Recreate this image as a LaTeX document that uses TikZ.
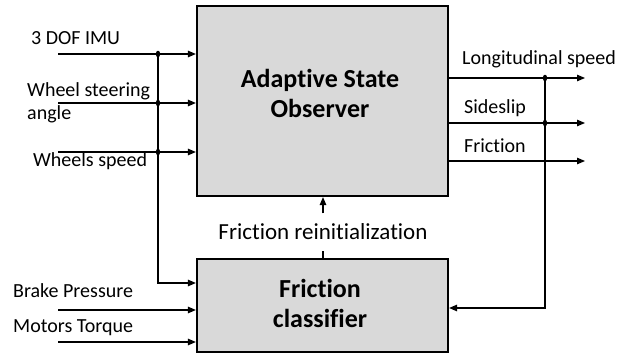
\documentclass[tikz,border=0pt]{standalone}
\usepackage{fontspec}
\setmainfont{Carlito}[Ligatures=NoCommon]
\usetikzlibrary{arrows.meta}
\definecolor{boxgray}{HTML}{D9D9D9}
\tikzset{
  block/.style={draw, line width=2.2pt, fill=boxgray, minimum width=251pt,
    minimum height=190pt, inner sep=0pt},
  title/.style={inner sep=0pt, align=center, anchor=base,
    font=\fontsize{26}{30}\selectfont\bfseries},
  lbl/.style={inner sep=0pt, font=\fontsize{20}{23}\selectfont},
  sig/.style={line width=1.2pt, -{Triangle[length=8pt,width=6.5pt]}},
  wire/.style={line width=1.2pt}
}
\begin{document}
\begin{tikzpicture}[x=1pt,y=-1pt]
\useasboundingbox (0,0) rectangle (630,358);
% blocks
\node[block] (obs) at (322.5,101) {};
\node[block, minimum height=93pt] (cls) at (322.5,305.5) {};
\node[title] (obstitle) at (320,118) {Adaptive State\\Observer};
\node[title] (clstitle) at (320,328) {Friction\\classifier};
% input labels
\node[lbl, anchor=base west] (imu) at (31,45) {3 DOF IMU};
\node[lbl, anchor=base west, align=left] (steer) at (27,120) {Wheel steering\\angle};
\node[lbl, anchor=base west] (wspd) at (33,167) {Wheels speed};
\node[lbl, anchor=base west] (brake) at (13,298) {Brake Pressure};
\node[lbl, anchor=base west] (torque) at (13,333) {Motors Torque};
% output labels
\node[lbl, anchor=base west] (lspd) at (462,65) {Longitudinal speed};
\node[lbl, anchor=base west] (slip) at (464,114) {Sideslip};
\node[lbl, anchor=base west] (fric) at (464,153) {Friction};
\node[lbl, anchor=base, fill=white, inner ysep=10.5pt, font=\fontsize{23}{27}\selectfont]
  (reinit) at (323,240) {Friction reinitialization};
% line ends and junctions
\coordinate (in1) at (58,54);
\coordinate (in2) at (58,103);
\coordinate (in3) at (58,152);
\coordinate (in4) at (58,310);
\coordinate (in5) at (58,342);
\coordinate (j1) at (158,54);
\coordinate (j2) at (158,103);
\coordinate (j3) at (158,152);
\coordinate (j4) at (158,283);
\coordinate (out1) at (585,78);
\coordinate (out2) at (585,123);
\coordinate (out3) at (585,161);
\coordinate (k1) at (545,78);
\coordinate (k2) at (545,123);
\coordinate (k3) at (545,308);
% inputs
\draw[sig] (in1) -- (in1 -| obs.west);
\draw[sig] (in2) -- (in2 -| obs.west);
\draw[sig] (in3) -- (in3 -| obs.west);
\draw[sig] (in4) -- (in4 -| cls.west);
\draw[sig] (in5) -- (in5 -| cls.west);
\draw[sig] (j1) -- (j4) -- (j4 -| cls.west);
% outputs
\draw[sig] (out1 -| obs.east) -- (out1);
\draw[sig] (out2 -| obs.east) -- (out2);
\draw[sig] (out3 -| obs.east) -- (out3);
\draw[sig] (k1) -- (k3) -- (k3 -| cls.east);
% reinitialization
\draw[wire] (reinit.south |- cls.north) -- (reinit.south);
\draw[sig] (reinit.north) -- (reinit.north |- obs.south);
% junction dots
\foreach \p in {j1,j2,j3,k1,k2}
  \fill (\p) ellipse (2.2 and 3.3);
\end{tikzpicture}
\end{document}
